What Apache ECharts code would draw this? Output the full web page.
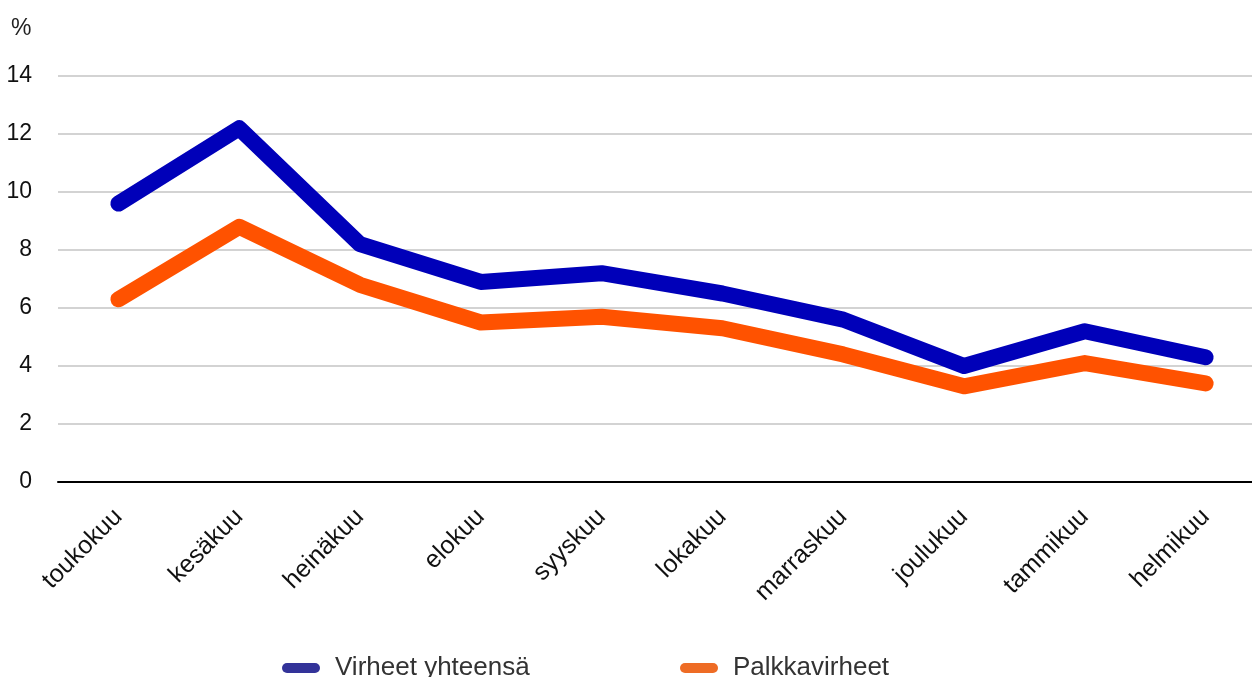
<!DOCTYPE html>
<html>
<head>
<meta charset="utf-8">
<script src="https://cdn.jsdelivr.net/npm/echarts@6/dist/echarts.min.js"></script>
<style>
html,body{margin:0;padding:0;background:#fff;}
#c{width:1252px;height:677px;}
</style>
</head>
<body>
<div id="c"></div>
<script>
const categories = ['toukokuu','kesäkuu','heinäkuu','elokuu','syyskuu','lokakuu','marraskuu','joulukuu','tammikuu','helmikuu'];
const virheetYhteensa = [9.6, 12.2, 8.2, 6.9, 7.2, 6.5, 5.6, 4.0, 5.2, 4.3];
const palkkavirheet = [6.3, 8.8, 6.8, 5.5, 5.7, 5.3, 4.4, 3.3, 4.1, 3.4];
const seriesNames = ['Virheet yhteensä', 'Palkkavirheet'];
const yTicks = { min: 0, max: 14, interval: 2 };

const font = '"Liberation Sans", Arial, sans-serif';
const pill = 'path://M5,0 L33,0 A5,5 0 0 1 33,10 L5,10 A5,5 0 0 1 5,0 Z';
const chart = echarts.init(document.getElementById('c'));
chart.setOption({
  animation: false,
  backgroundColor: '#ffffff',
  title: {
    text: '%', left: 6, top: 12,
    textStyle: { fontFamily: font, fontSize: 23, fontWeight: 'normal', color: '#222' }
  },
  legend: [
    {
      left: 282, top: 655, padding: 0, icon: pill, itemWidth: 38, itemHeight: 10, itemGap: 10,
      textStyle: { fontFamily: font, fontSize: 26, color: '#333', padding: [0, 0, 0, 10] },
      data: [{ name: seriesNames[0], itemStyle: { color: '#333399' } }]
    },
    {
      left: 680, top: 655, padding: 0, icon: pill, itemWidth: 38, itemHeight: 10, itemGap: 10,
      textStyle: { fontFamily: font, fontSize: 26, color: '#333', padding: [0, 0, 0, 10] },
      data: [{ name: seriesNames[1], itemStyle: { color: '#EE6C25' } }]
    }
  ],
  grid: { left: 58, width: 1208, top: 76, height: 406, containLabel: false, outerBoundsMode: 'none' },
  xAxis: {
    type: 'category',
    data: categories,
    boundaryGap: true,
    axisLine: { lineStyle: { color: '#000', width: 2 } },
    axisTick: { show: false },
    axisLabel: { rotate: 45, margin: 31, fontFamily: font, fontSize: 25, color: '#111', interval: 0 }
  },
  yAxis: {
    type: 'value',
    min: yTicks.min, max: yTicks.max, interval: yTicks.interval,
    axisLine: { show: false },
    axisTick: { show: false },
    axisLabel: { margin: 26, fontFamily: font, fontSize: 23, color: '#111' },
    splitLine: { lineStyle: { color: '#c4c4c4', width: 1.5 } }
  },
  series: [
    {
      name: seriesNames[0], type: 'line', data: virheetYhteensa,
      showSymbol: false, symbol: 'none',
      lineStyle: { color: '#0000B9', width: 16, cap: 'round', join: 'round' },
      itemStyle: { color: '#0000B9' }
    },
    {
      name: seriesNames[1], type: 'line', data: palkkavirheet,
      showSymbol: false, symbol: 'none',
      lineStyle: { color: '#FF5200', width: 16, cap: 'round', join: 'round' },
      itemStyle: { color: '#FF5200' }
    }
  ]
});
</script>
</body>
</html>
